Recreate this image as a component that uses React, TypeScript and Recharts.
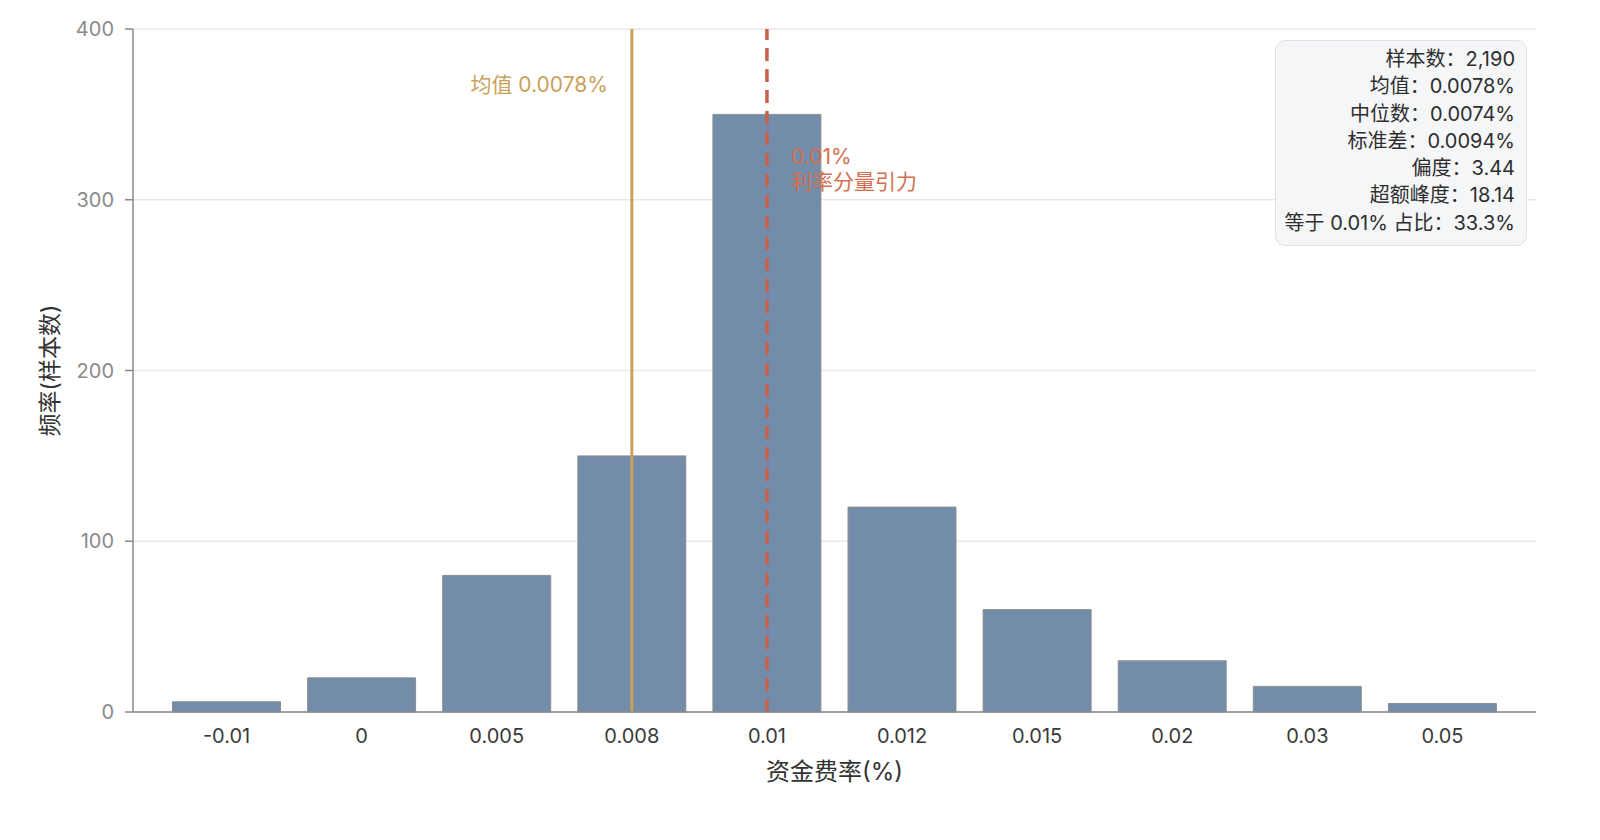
import React from 'react';
import {
  BarChart,
  Bar,
  XAxis,
  YAxis,
  CartesianGrid,
  ReferenceLine,
} from 'recharts';

const rateBins = ['-0.01', '0', '0.005', '0.008', '0.01', '0.012', '0.015', '0.02', '0.03', '0.05'];
const binCounts = [6, 20, 80, 150, 350, 120, 60, 30, 15, 5];
const yTicks = [0, 100, 200, 300, 400];
const statLines = [
  '样本数：2,190',
  '均值：0.0078%',
  '中位数：0.0074%',
  '标准差：0.0094%',
  '偏度：3.44',
  '超额峰度：18.14',
  '等于 0.01% 占比：33.3%',
];

const data = rateBins.map((bin, i) => ({ bin, count: binCounts[i] }));

const FONT = "Inter, 'Noto Sans CJK SC', sans-serif";
const MEAN_COLOR = '#c9a15a';
const ANCHOR_COLOR = '#c6614c';

function MeanLabel({ viewBox }: any) {
  return (
    <text x={viewBox.x - 24} y={92} textAnchor="end" fill={MEAN_COLOR} fontSize={21} fontFamily={FONT}>
      均值 0.0078%
    </text>
  );
}

function AnchorLabel({ viewBox }: any) {
  const x = viewBox.x + 24;
  return (
    <text x={x} fill="#d2704f" fontSize={21} fontFamily={FONT}>
      <tspan x={x} y={164}>0.01%</tspan>
      <tspan x={x} y={189}>利率分量引力</tspan>
    </text>
  );
}

function YLabel({ viewBox }: any) {
  const cy = viewBox.y + viewBox.height / 2;
  return (
    <text
      x={50}
      y={cy}
      transform={`rotate(-90 50 ${cy})`}
      textAnchor="middle"
      dominantBaseline="central"
      fill="#333"
      fontSize={23}
      fontFamily={FONT}
    >
      频率(样本数)
    </text>
  );
}

export default function App() {
  return (
    <div style={{ position: 'absolute', left: 0, top: 0, width: 1600, height: 840, background: '#fff', fontFamily: FONT }}>
      <BarChart
        width={1600}
        height={840}
        data={data}
        margin={{ top: 29, right: 64, left: 63, bottom: 68 }}
        barCategoryGap="10%"
      >
        <CartesianGrid vertical={false} stroke="#e9e9ea" strokeWidth={1.5} />
        <XAxis
          dataKey="bin"
          padding={{ left: 26, right: 26 }}
          tickLine={false}
          axisLine={{ stroke: '#888', strokeWidth: 1.5 }}
          tick={{ fill: '#3a3a3a', fontSize: 20, fontFamily: FONT }}
          tickMargin={11}
          height={60}
          label={{ value: '资金费率(%)', position: 'insideBottom', offset: -8, fill: '#333', fontSize: 24, fontFamily: FONT }}
        />
        <YAxis
          domain={[0, 400]}
          ticks={yTicks}
          width={70}
          axisLine={{ stroke: '#888', strokeWidth: 1.5 }}
          tickLine={{ stroke: '#888', strokeWidth: 1.5 }}
          tickSize={8}
          tickMargin={11}
          tick={{ fill: '#8a8a8a', fontSize: 20, fontFamily: FONT }}
          label={<YLabel />}
        />
        <Bar dataKey="count" fill="#728ca9" stroke="#8f8f8f" strokeWidth={1} isAnimationActive={false} />
        <ReferenceLine x="0.008" stroke={MEAN_COLOR} strokeWidth={3} label={<MeanLabel />} />
        <ReferenceLine x="0.01" stroke={ANCHOR_COLOR} strokeWidth={3.5} strokeDasharray="13 8" label={<AnchorLabel />} />
      </BarChart>
      <div
        style={{
          position: 'absolute',
          left: 1275,
          top: 40,
          width: 252,
          height: 206,
          boxSizing: 'border-box',
          background: '#f5f6f8',
          border: '1.5px solid #e0e1e4',
          borderRadius: 10,
          padding: '5px 11px 0 0',
          textAlign: 'right',
          fontSize: 20,
          lineHeight: '27.3px',
          color: '#2e2e2e',
        }}
      >
        {statLines.map((line) => (
          <div key={line}>{line}</div>
        ))}
      </div>
    </div>
  );
}
